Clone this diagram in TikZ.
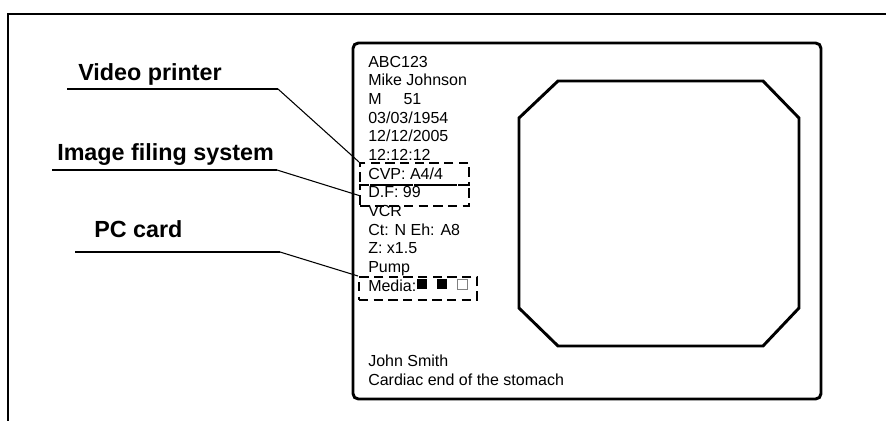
\documentclass[tikz,border=0pt]{standalone}
\usepackage{fontspec}
\setmainfont{Liberation Sans}
\usepackage{tikz}
\usetikzlibrary{positioning,calc}
\tikzset{
  frameline/.style={line width=1.5pt},
  screenline/.style={line width=2.2pt},
  underline/.style={line width=1.4pt},
  leader/.style={line width=0.8pt},
  dashbox/.style={draw,line width=1.5pt,dash pattern=on 7pt off 4pt,
    anchor=north west,inner sep=0pt},
  infotext/.style={anchor=base west,inner sep=0pt,font=\fontsize{12}{14}\selectfont},
  labeltext/.style={anchor=base west,inner sep=0pt,font=\fontsize{17.5}{20}\selectfont\bfseries}
}

\begin{document}
\begin{tikzpicture}[x=0.75pt,y=-0.75pt]
  \useasboundingbox (0,0) rectangle (886,421);

  % outer frame (top and left only)
  \draw[frameline] (8,421) -- (8,14) -- (886,14);

  % monitor and endoscope image area
  \draw[screenline,rounded corners=4pt] (353,43) rectangle (821,399);
  \draw[screenline] (558,81) -- (763,81) -- (799,118) -- (799,308)
    -- (763,346) -- (558,346) -- (519,308) -- (519,118) -- cycle;

  % data on the left side of the screen
  \foreach \t [count=\i] in {ABC123, Mike Johnson, {M\hspace{16.5pt}51},
      03/03/1954, 12/12/2005, 12:12:12, CVP: A4/4, D.F: 99, VCR,
      Ct: N Eh: A8, Z: x1.5, Pump, Media:}
    \node[infotext] (l\i) at (368,{67+(\i-1)*18.67}) {\t};
  \node[infotext] (doctor) at (368,366) {John Smith};
  \node[infotext] (site) at (368,385) {Cardiac end of the stomach};

  % media marks
  \fill (417,279) rectangle (427,289);
  \fill (437,279) rectangle (447,289);
  \draw[line width=0.6pt,gray] (457.5,279.5) rectangle (467,289);

  % dashed output boxes
  \node[dashbox,minimum width=81.75pt,minimum height=16.5pt] (cvp) at (359,162) {};
  \node[dashbox,minimum width=81.75pt,minimum height=15.75pt] (df) at (359,184) {};
  \node[dashbox,minimum width=88.5pt,minimum height=17.25pt] (media) at (358,276) {};

  % labels
  \node[labeltext] (vprinter) at (78,80) {Video printer};
  \node[labeltext] (filing) at (57,160) {Image filing system};
  \node[labeltext] (pccard) at (94,237) {PC card};

  \coordinate (vpa) at (67,89);
  \coordinate (vpb) at (278,89);
  \coordinate (ifa) at (52,170);
  \coordinate (ifb) at (277,170);
  \coordinate (pca) at (75,252);
  \coordinate (pcb) at (280,252);

  \draw[underline] (vpa) -- (vpb);
  \draw[underline] (ifa) -- (ifb);
  \draw[underline] (pca) -- (pcb);
  \draw[leader] (vpb) -- (cvp.north west);
  \draw[leader] (ifb) -- (df.west);
  \draw[leader] (pcb) -- (media.north west);
\end{tikzpicture}
\end{document}
